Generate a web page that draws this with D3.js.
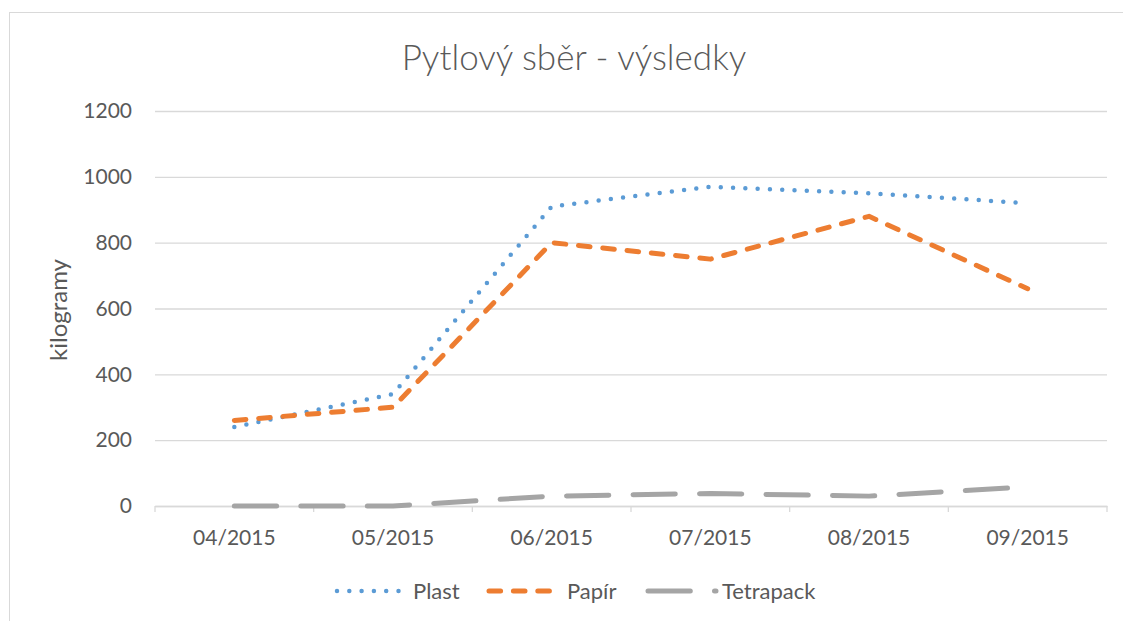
<!DOCTYPE html>
<html>
<head>
<meta charset="utf-8">
<script src="https://cdn.jsdelivr.net/npm/d3@7/dist/d3.min.js"></script>
<style>
  html, body { margin: 0; padding: 0; background: #fff; }
  svg { display: block; }
  text { font-family: Lato, "Open Sans", sans-serif; fill: #595959; }
</style>
</head>
<body>
<svg id="chart" width="1123" height="621"></svg>
<script>
const categories = ["04/2015", "05/2015", "06/2015", "07/2015", "08/2015", "09/2015"];
const plast = [240, 340, 910, 970, 950, 920];
const papir = [260, 300, 800, 750, 880, 660];
const tetrapack = [0, 0, 30, 38, 30, 58];
const yTicks = [0, 200, 400, 600, 800, 1000, 1200];
const seriesNames = ["Plast", "Papír", "Tetrapack"];
const chartTitle = "Pytlový sběr - výsledky";
const yTitle = "kilogramy";

(function () {
const svg = d3.select("#chart");
const W = 1123, H = 621;

// chart border
svg.append("rect")
  .attr("x", 9.5).attr("y", 12.5)
  .attr("width", W + 20).attr("height", H + 20)
  .attr("fill", "#fff").attr("stroke", "#D9D9D9").attr("stroke-width", 1);

const pLeft = 155, pRight = 1107, pTop = 111, pBottom = 506;

const x = d3.scaleBand().domain(categories).range([pLeft, pRight]).padding(0);
const y = d3.scaleLinear().domain([0, 1200]).range([pBottom, pTop]);
const cx = c => x(c) + x.bandwidth() / 2;

// gridlines
const yAxis = d3.axisLeft(y).tickValues(yTicks).tickFormat(d3.format("d"))
  .tickSize(-(pRight - pLeft)).tickPadding(23);
const gy = svg.append("g").attr("transform", `translate(${pLeft},0)`).call(yAxis);
gy.select(".domain").remove();
gy.selectAll(".tick line").attr("stroke", "#D9D9D9").attr("stroke-width", 1.3);
gy.selectAll(".tick text").attr("font-size", 21).attr("fill", "#595959")
  .style("font-family", "Lato, sans-serif");

// x axis
const xAxis = d3.axisBottom(x).tickSize(0).tickPadding(24);
const gx = svg.append("g").attr("transform", `translate(0,${pBottom})`).call(xAxis);
gx.select(".domain").attr("stroke", "#D9D9D9").attr("stroke-width", 1.3);
gx.selectAll(".tick text").attr("font-size", 21).attr("fill", "#595959")
  .style("font-family", "Lato, sans-serif");
// boundary tick marks
const bounds = categories.map(c => x(c)).concat([pRight]);
gx.selectAll(".bt").data(bounds).enter().append("line")
  .attr("x1", d => d).attr("x2", d => d)
  .attr("y1", 0).attr("y2", 6)
  .attr("stroke", "#D9D9D9").attr("stroke-width", 1.3);

const styles = [
  { color: "#5B9BD5", width: 4.5, dash: "0 12.3" },
  { color: "#ED7D31", width: 5, dash: "11.6 12.8" },
  { color: "#A5A5A5", width: 5, dash: "42.3 24.2" }
];
const data = [plast, papir, tetrapack];

const line = d3.line().x((d, i) => cx(categories[i])).y(d => y(d));

data.forEach((vals, k) => {
  svg.append("path")
    .attr("d", line(vals))
    .attr("fill", "none")
    .attr("stroke", styles[k].color)
    .attr("stroke-width", styles[k].width)
    .attr("stroke-dasharray", styles[k].dash)
    .attr("stroke-linecap", "round")
    .attr("stroke-linejoin", "round");
});

// title
svg.append("text")
  .attr("x", 574).attr("y", 70)
  .attr("text-anchor", "middle")
  .attr("font-size", 35)
  .attr("font-weight", 300)
  .text(chartTitle);

// y title
svg.append("text")
  .attr("transform", "translate(67,310) rotate(-90)")
  .attr("text-anchor", "middle")
  .attr("font-size", 24)
  .text(yTitle);

// legend
const legendItems = [
  { x1: 337, x2: 401, tx: 413 },
  { x1: 489, x2: 555, tx: 567 },
  { x1: 648, x2: 716, tx: 722 }
];
const ly = 591;
legendItems.forEach((it, k) => {
  svg.append("line")
    .attr("x1", it.x1).attr("x2", it.x2).attr("y1", ly).attr("y2", ly)
    .attr("stroke", styles[k].color)
    .attr("stroke-width", styles[k].width)
    .attr("stroke-dasharray", styles[k].dash)
    .attr("stroke-linecap", "round");
  svg.append("text")
    .attr("x", it.tx).attr("y", ly + 8)
    .attr("font-size", 22)
    .text(seriesNames[k]);
});
})();
</script>
</body>
</html>
